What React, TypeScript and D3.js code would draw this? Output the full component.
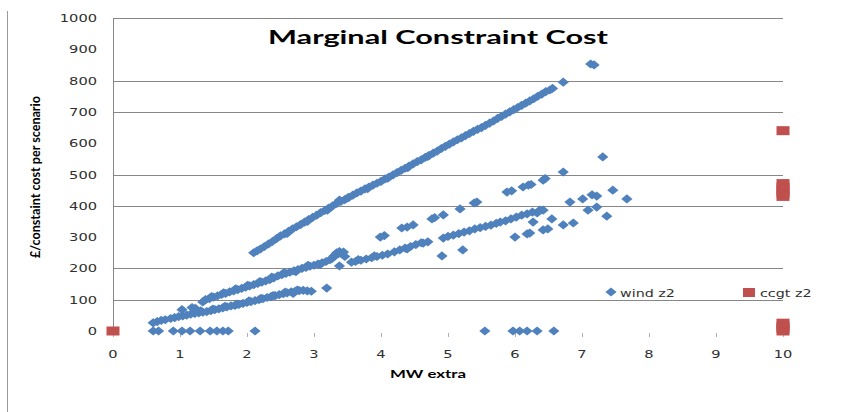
import React from "react";
import * as d3 from "d3";

const W = 857;
const H = 412;

const title = "Marginal Constraint Cost";
const xTitle = "MW extra";
const yTitle = "£/constaint cost per scenario";
const seriesNames = ["wind z2", "ccgt z2"];

const xTicks = [0, 1, 2, 3, 4, 5, 6, 7, 8, 9, 10];
const yTicks = [0, 100, 200, 300, 400, 500, 600, 700, 800, 900, 1000];
const gridValues = [100, 200, 400, 500, 700, 800, 1000];

// wind z2 – upper line
const windUpper: [number, number][] = [
  [2.10, 250], [2.15, 256], [2.20, 262], [2.26, 270], [2.32, 278], [2.38, 286], [2.44, 295], [2.50, 304],
  [2.56, 310], [2.62, 318], [2.68, 326], [2.74, 333], [2.80, 340], [2.86, 348], [2.92, 356], [2.98, 363],
  [3.04, 370], [3.10, 378], [3.16, 385], [3.22, 393], [3.28, 400], [3.34, 408], [3.38, 418], [3.40, 414],
  [3.46, 420], [3.52, 427], [3.58, 434], [3.64, 441], [3.70, 447], [3.76, 454], [3.82, 460], [3.88, 466],
  [3.94, 472], [4.00, 478], [4.06, 486], [4.12, 492], [4.18, 499], [4.24, 506], [4.30, 513], [4.36, 520],
  [4.42, 527], [4.48, 534], [4.54, 541], [4.60, 547], [4.66, 555], [4.72, 561], [4.78, 568], [4.84, 575],
  [4.90, 583], [4.96, 590], [5.02, 597], [5.08, 604], [5.14, 611], [5.20, 617], [5.26, 624], [5.32, 631],
  [5.38, 638], [5.44, 644], [5.50, 650], [5.56, 657], [5.62, 664], [5.68, 671], [5.74, 679], [5.80, 686],
  [5.86, 693], [5.92, 700], [5.98, 707], [6.04, 714], [6.10, 721], [6.16, 728], [6.22, 735], [6.28, 742],
  [6.34, 750], [6.40, 757], [6.46, 765], [6.52, 770], [6.56, 775], [6.72, 795], [7.13, 853], [7.18, 850],
  [2.60, 312], [2.90, 350], [3.20, 386], [3.50, 425], [3.80, 455], [4.10, 488], [4.40, 522], [4.70, 558],
];

// wind z2 – middle band
const windMiddle: [number, number][] = [
  [1.34, 93], [1.38, 100], [1.44, 103], [1.50, 108], [1.56, 112], [1.62, 117], [1.68, 120], [1.74, 125],
  [1.80, 128], [1.86, 132], [1.92, 136], [1.98, 140], [2.04, 144], [2.10, 148], [2.16, 152], [2.22, 156],
  [2.28, 160], [2.34, 164], [2.40, 170], [2.46, 176], [2.52, 180], [2.58, 184], [2.64, 188], [2.70, 192],
  [2.76, 196], [2.82, 200], [2.88, 203], [2.94, 207], [3.00, 210], [3.06, 214], [3.12, 218], [3.18, 222],
  [3.24, 228], [3.30, 240], [3.34, 250], [3.38, 254], [3.42, 247], [3.46, 238], [3.38, 208], [3.56, 220],
  [3.62, 222], [3.70, 226], [3.78, 230], [3.86, 234], [3.94, 238], [4.02, 242], [4.10, 246], [4.20, 253],
  [4.28, 259], [4.36, 265], [4.44, 270], [4.52, 276], [4.60, 282], [4.93, 297], [5.00, 302], [5.08, 306],
  [5.16, 311], [5.24, 316], [5.32, 320], [5.40, 326], [5.48, 330], [5.56, 334], [5.64, 338], [5.72, 344],
  [5.78, 348], [5.86, 352], [5.94, 358], [6.02, 364], [6.10, 370], [6.18, 374], [6.26, 380], [6.37, 386],
  [1.47, 110], [1.65, 122], [1.83, 135], [2.01, 146], [2.19, 158], [2.37, 172], [2.55, 186], [2.73, 190],
  [2.91, 210], [3.09, 212], [3.27, 232], [3.32, 244], [3.36, 246], [3.44, 252], [3.66, 228], [3.90, 240],
];

// wind z2 – lower band
const windLower: [number, number][] = [
  [0.60, 26], [0.66, 30], [0.72, 34], [0.78, 36], [0.86, 40], [0.92, 43], [0.98, 46], [1.04, 48],
  [1.10, 51], [1.16, 54], [1.22, 56], [1.28, 58], [1.34, 60], [1.40, 62], [1.46, 65], [1.52, 68],
  [1.58, 71], [1.64, 74], [1.70, 77], [1.76, 80], [1.82, 82], [1.88, 85], [1.94, 88], [2.00, 91],
  [2.06, 94], [2.12, 97], [2.18, 100], [2.24, 103], [2.30, 107], [2.36, 110], [2.42, 113], [2.48, 116],
  [2.54, 119], [2.60, 122], [2.66, 125], [2.72, 127], [2.78, 129], [2.84, 130], [2.90, 128], [2.96, 127],
  [3.19, 137], [1.03, 68], [1.18, 75], [1.23, 72],
  [1.31, 64], [1.49, 70], [1.67, 79], [1.85, 86], [2.03, 96], [2.21, 104], [2.39, 113], [2.57, 124],
  [2.69, 120], [2.75, 131],
];

// wind z2 – scattered points
const windSparse: [number, number][] = [
  [3.99, 300], [4.05, 305], [4.31, 329], [4.39, 332], [4.48, 339], [4.76, 358], [4.80, 362], [4.93, 371],
  [5.18, 390], [5.39, 409], [5.43, 412], [5.88, 444], [5.95, 448], [6.12, 460], [6.20, 466], [6.24, 468],
  [6.42, 482], [6.45, 487], [6.72, 508], [7.31, 556], [7.46, 450], [7.67, 422], [6.82, 412], [7.01, 422],
  [7.15, 435], [7.22, 431], [7.09, 386], [7.22, 396], [7.37, 367], [6.42, 386], [6.33, 377], [6.55, 358],
  [6.72, 339], [6.87, 345], [6.42, 323], [6.49, 326], [6.27, 348], [6.22, 313], [4.63, 281], [4.91, 240],
  [5.22, 259], [6.00, 300], [6.18, 310], [4.39, 262], [4.70, 285],
];

// wind z2 – zero points
const windZero: [number, number][] = [
  [0.60, 0], [0.68, 0], [0.90, 0], [1.03, 0], [1.15, 0], [1.30, 0], [1.45, 0], [1.55, 0], [1.64, 0],
  [1.72, 0], [2.12, 0], [5.55, 0], [5.97, 0], [6.07, 0], [6.18, 0], [6.33, 0], [6.58, 0],
];

// ccgt z2
const ccgt: [number, number][] = [
  [0, 0], [10, 0], [10, 8], [10, 16], [10, 25], [10, 430], [10, 440], [10, 450], [10, 460], [10, 471], [10, 640],
];

const windAll = [...windUpper, ...windMiddle, ...windLower, ...windSparse, ...windZero];

const BLUE = "#4F81BD";
const RED = "#C0504D";
const TXT = "#303030";
const GRID = "#878787";
const tickFont = "'DejaVu Sans', Verdana, sans-serif";
const titleFont = "Lato, 'Open Sans', sans-serif";

const diamond = (cx: number, cy: number) =>
  `M${cx},${cy - 4.6}L${cx + 5.6},${cy}L${cx},${cy + 4.6}L${cx - 5.6},${cy}Z`;

export default function App() {
  const x = d3.scaleLinear().domain([0, 10]).range([113, 783]);
  const y = d3.scaleLinear().domain([0, 1000]).range([331, 18]);

  return (
    <svg
      width={W}
      height={H}
      style={{ position: "absolute", left: 0, top: 0, background: "#fff" }}
    >
      <rect x={0} y={0} width={W} height={H} fill="#fff" />
      {/* outer border left */}
      <line x1={7.5} y1={11} x2={7.5} y2={H} stroke="#9a9a9a" strokeWidth={1} />

      {/* gridlines */}
      {gridValues.map((v) => (
        <line key={"g" + v} x1={x(0)} x2={x(10)} y1={Math.round(y(v)) + 0.5} y2={Math.round(y(v)) + 0.5}
          stroke={GRID} strokeWidth={1} />
      ))}
      {/* y axis line */}
      <line x1={x(0) + 0.5} x2={x(0) + 0.5} y1={y(1000)} y2={y(0) + 5} stroke={GRID} strokeWidth={1} />
      {/* x tick marks */}
      {xTicks.map((t) => (
        <line key={"xt" + t} x1={Math.round(x(t)) + 0.5} x2={Math.round(x(t)) + 0.5} y1={y(0) + 2} y2={y(0) + 6}
          stroke="#b0b0b0" strokeWidth={1} />
      ))}

      {/* y tick labels */}
      {yTicks.map((t) => (
        <text key={"yl" + t} transform={`translate(97,${y(t) + 4}) scale(1.33,1)`} textAnchor="end"
          fontFamily={tickFont} fontSize={11} fill={TXT}>{t}</text>
      ))}
      {/* x tick labels */}
      {xTicks.map((t) => (
        <text key={"xl" + t} transform={`translate(${x(t)},${358}) scale(1.33,1)`} textAnchor="middle"
          fontFamily={tickFont} fontSize={11} fill={TXT}>{t}</text>
      ))}

      {/* wind points */}
      {windAll.map((p, i) => (
        <path key={"w" + i} d={diamond(x(p[0]), y(p[1]))} fill={BLUE} />
      ))}
      {/* ccgt points */}
      {ccgt.map((p, i) => (
        <rect key={"c" + i} x={x(p[0]) - 6.5} y={y(p[1]) - 4.5} width={13} height={9} fill={RED} />
      ))}

      {/* legend */}
      <path d={diamond(611, 292)} fill={BLUE} />
      <text transform="translate(620,297) scale(1.3,1)" fontFamily={tickFont} fontSize={11} fill={TXT}>{seriesNames[0]}</text>
      <rect x={743} y={288} width={12} height={9} fill={RED} />
      <text transform="translate(760,297) scale(1.3,1)" fontFamily={tickFont} fontSize={11} fill={TXT}>{seriesNames[1]}</text>

      {/* titles */}
      <text x={268} y={44} textLength={340} lengthAdjust="spacingAndGlyphs" fontFamily={titleFont}
        fontWeight="bold" fontSize={19} fill="#000">{title}</text>
      <text x={390} y={378} textLength={76} lengthAdjust="spacingAndGlyphs" fontFamily={titleFont}
        fontWeight="bold" fontSize={11} fill="#000">{xTitle}</text>
      <text transform="translate(40,258) rotate(-90)" textLength={162} lengthAdjust="spacingAndGlyphs"
        fontFamily={titleFont} fontWeight="bold" fontSize={12.5} fill="#000">{yTitle}</text>
    </svg>
  );
}
